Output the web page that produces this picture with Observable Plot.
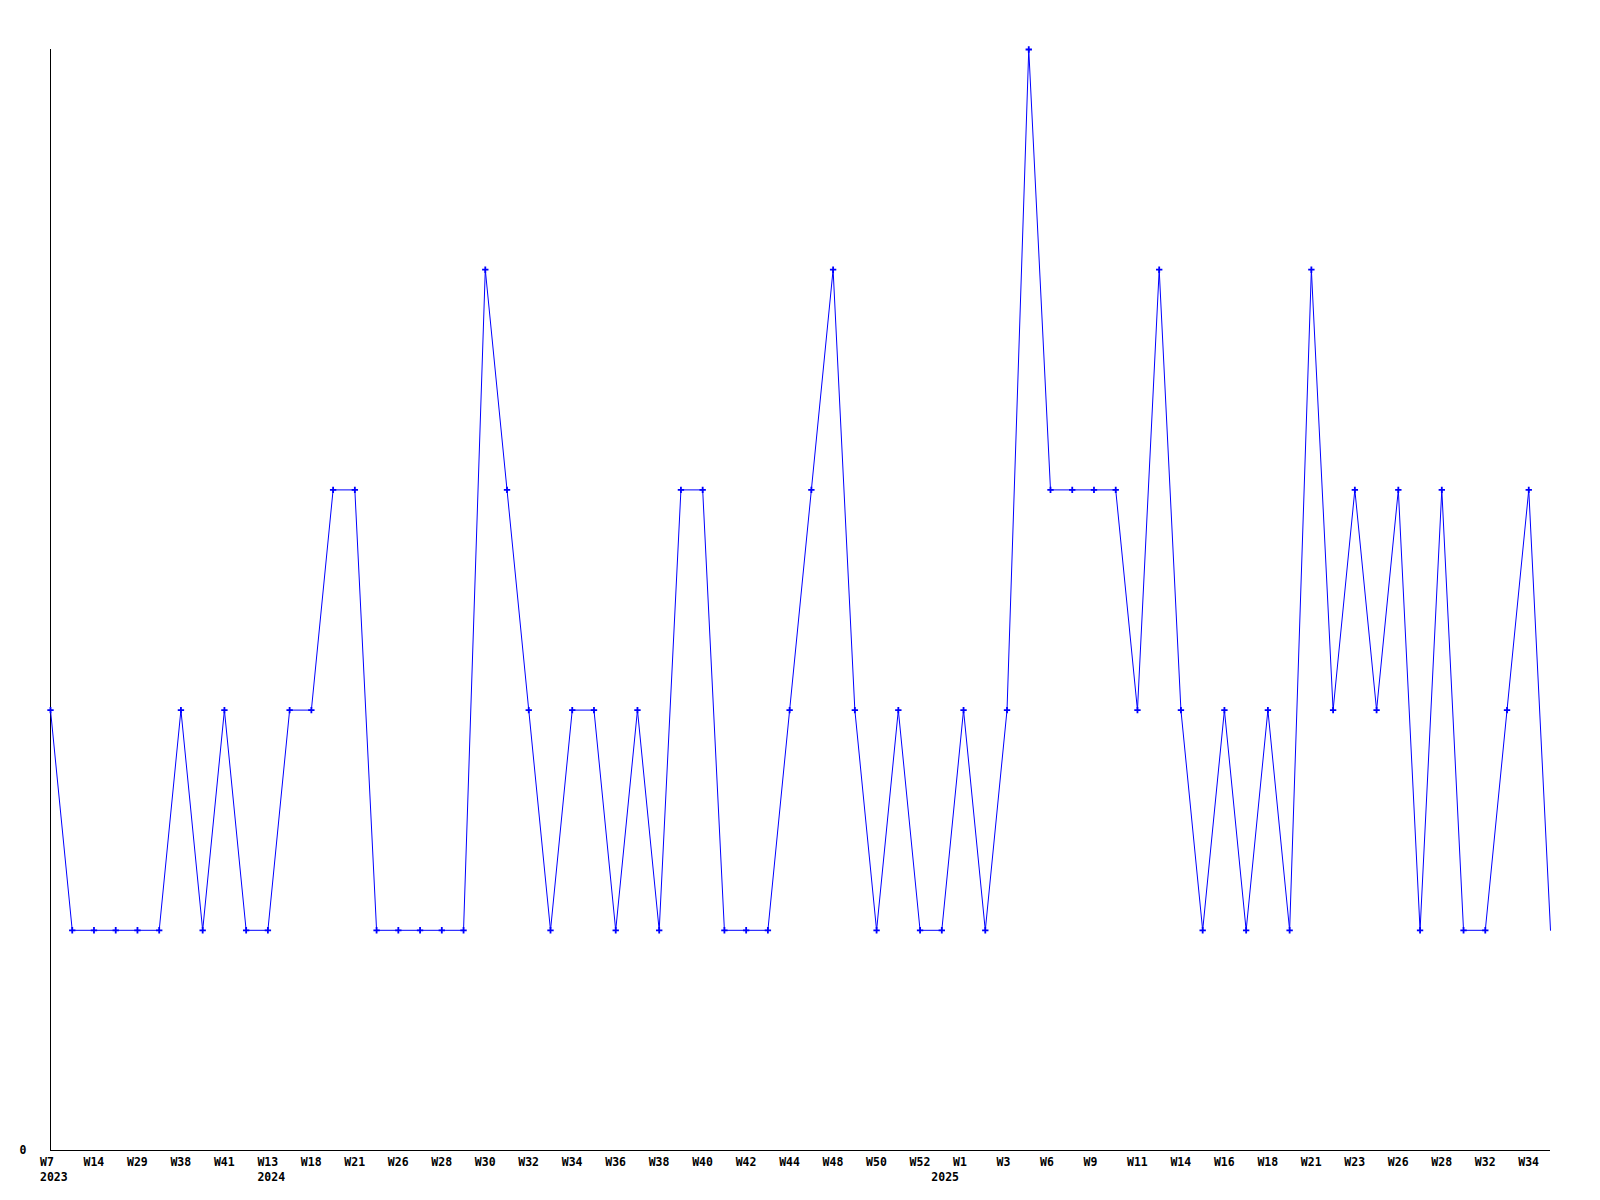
<!DOCTYPE html>
<html>
<head>
<meta charset="utf-8">
<script src="https://cdn.jsdelivr.net/npm/d3@7"></script>
<script src="https://cdn.jsdelivr.net/npm/@observablehq/plot@0.6"></script>
<style>
  html, body { margin: 0; padding: 0; background: #ffffff; }
  svg { display: block; }
</style>
</head>
<body>
<div id="chart"></div>
<script>
// Week labels (odd positions are not labelled on the axis; their names are estimates)
const weeks = [
  "W7","W10","W14","W22","W29","W33","W38","W40","W41","W46",
  "W13","W15","W18","W20","W21","W24","W26","W27","W28","W29",
  "W30","W31","W32","W33","W34","W35","W36","W37","W38","W39",
  "W40","W41","W42","W43","W44","W46","W48","W49","W50","W51",
  "W52","W0","W1","W2","W3","W4","W6","W7","W9","W10",
  "W11","W12","W14","W15","W16","W17","W18","W19","W21","W22",
  "W23","W25","W26","W27","W28","W30","W32","W33","W34","W35"
];
const years = [
  2023,2023,2023,2023,2023,2023,2023,2023,2023,2023,
  2024,2024,2024,2024,2024,2024,2024,2024,2024,2024,
  2024,2024,2024,2024,2024,2024,2024,2024,2024,2024,
  2024,2024,2024,2024,2024,2024,2024,2024,2024,2024,
  2024,2025,2025,2025,2025,2025,2025,2025,2025,2025,
  2025,2025,2025,2025,2025,2025,2025,2025,2025,2025,
  2025,2025,2025,2025,2025,2025,2025,2025,2025,2025
];
const counts = [
  2,1,1,1,1,1,2,1,2,1,
  1,2,2,3,3,1,1,1,1,1,
  4,3,2,1,2,2,1,2,1,3,
  3,1,1,1,2,3,4,2,1,2,
  1,1,2,1,2,5,3,3,3,3,
  2,4,2,1,2,1,2,1,4,2,
  3,2,3,1,3,1,1,2,3,1
];
const yTicks = [0];

const data = weeks.map((w, i) => ({key: years[i] + "-" + w, week: w, year: years[i], count: counts[i]}));
const keys = data.map(d => d.key);
const byKey = new Map(data.map(d => [d.key, d]));
const tickKeys = keys.filter((k, i) => i % 2 === 0);
const yearStartKeys = keys.filter((k, i) => i === 0 || data[i].year !== data[i - 1].year);

const axisCommon = {tickSize: 0, textAnchor: "start", dx: -10.5, fill: "#000000", label: null};

const chart = Plot.plot({
  width: 1600,
  height: 1200,
  marginLeft: 50,
  marginRight: 50,
  marginTop: 49,
  marginBottom: 50,
  style: {
    fontFamily: "'DejaVu Sans Mono', monospace",
    fontSize: "11.5px",
    fontWeight: "bold",
    background: "#ffffff",
    color: "#000000"
  },
  x: {type: "point", domain: keys, padding: 0, label: null},
  y: {domain: [0, 5], label: null},
  marks: [
    Plot.ruleY([0], {stroke: "#000000", strokeWidth: 1}),
    Plot.ruleX([keys[0]], {y1: 0, y2: 5, stroke: "#000000", strokeWidth: 1}),
    Plot.line(data, {x: "key", y: "count", stroke: "#0000ff", strokeWidth: 1}),
    Plot.dot(data, {x: "key", y: "count", symbol: "plus", r: 2.2, stroke: "#0000ff", strokeWidth: 1.8,
      filter: (d, i) => i < data.length - 1}),
    Plot.axisX({...axisCommon, ticks: tickKeys, tickFormat: k => byKey.get(k).week, tickPadding: 7}),
    Plot.axisX({...axisCommon, ticks: yearStartKeys, tickFormat: k => String(byKey.get(k).year), tickPadding: 22}),
    Plot.axisY({ticks: yTicks, tickFormat: d => String(d), tickSize: 0, tickPadding: 24, fill: "#000000", label: null})
  ]
});
document.getElementById("chart").appendChild(chart);
</script>
</body>
</html>
